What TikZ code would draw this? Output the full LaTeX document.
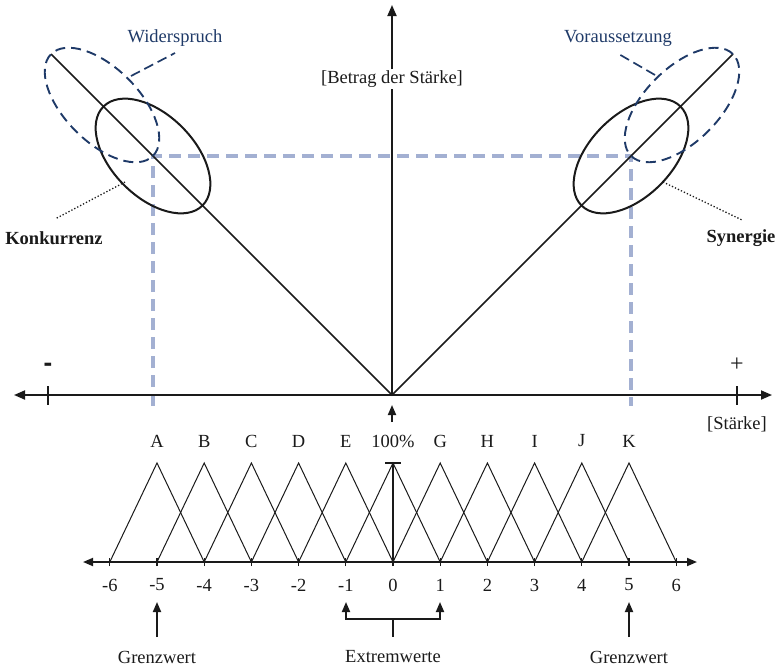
\documentclass[tikz,border=0pt]{standalone}
\usepackage{fontspec}
\setmainfont{Liberation Serif}
\usetikzlibrary{arrows.meta}
\definecolor{navy}{HTML}{1F3A68}
\definecolor{lgrey}{HTML}{A3B0D2}
\definecolor{ink}{HTML}{1A1A1A}
\begin{document}
\begin{tikzpicture}[x=1pt,y=-1pt,
  font=\fontsize{18.5}{21}\selectfont,
  every node/.style={inner sep=1pt, text=ink},
  axisline/.style={draw=ink, line width=1.8pt},
  bigarr/.style={-{Triangle[length=11pt,width=9pt]}},
  smallarr/.style={-{Triangle[length=10pt,width=8pt]}},
  vline/.style={draw=ink, line width=1.7pt},
  blackell/.style={draw=ink, line width=2pt},
  blueell/.style={draw=navy, line width=1.9pt, dash pattern=on 10pt off 6pt},
  bluelead/.style={draw=navy, line width=1.7pt, dash pattern=on 10pt off 5pt},
  greydash/.style={draw=lgrey, line width=3.4pt, dash pattern=on 12pt off 7pt},
  dotlead/.style={draw=ink, line width=1.3pt, dotted},
  tri/.style={draw=ink, line width=1pt},
  bluetext/.style={text=navy}]
\useasboundingbox (0,0) rectangle (781,667);

% key points
\coordinate (O) at (392,395);
\coordinate (PL) at (153,156);
\coordinate (PR) at (631,156);
\coordinate (TL) at (51,54);
\coordinate (TR) at (733,54);

% light grey dashed guides
\coordinate (gl) at (153,406);
\coordinate (gr) at (631,406);
\draw[greydash] (gl) -- (PL) -- (PR) -- (gr);

% main horizontal axis
\coordinate (axL) at (14,395);
\coordinate (axR) at (772,395);
\draw[axisline, {Triangle[length=11pt,width=9pt]}-{Triangle[length=11pt,width=9pt]}] (axL) -- (axR);
\coordinate (tmT) at (48,386); \coordinate (tmB) at (48,405);
\coordinate (tpT) at (737,386); \coordinate (tpB) at (737,405);
\draw[axisline] (tmT) -- (tmB);
\draw[axisline] (tpT) -- (tpB);
\node (minus) at (48,367) {\fontsize{26}{28}\selectfont\fontspec{Liberation Sans}\bfseries -};
\node (plus) at (737,365) {\fontsize{24}{26}\selectfont +};
\node (staerke) at (737,424) {[Stärke]};

% vertical axis
\node (betrag) at (392,79) {[Betrag der Stärke]};
\coordinate (vtop) at (392,5);
\draw[axisline] (O) -- (betrag.south);
\draw[axisline, bigarr] (betrag.north) -- (vtop);

% V lines
\draw[vline] (TL) -- (O) -- (TR);

% ellipses
\draw[blackell, shift={(PL)}, rotate=-45] (0,0) ellipse [x radius=70pt, y radius=41pt];
\draw[blackell, shift={(PR)}, rotate=45] (0,0) ellipse [x radius=70pt, y radius=41pt];
\draw[blueell, shift={(102,105)}, rotate=-45] (0,0) ellipse [x radius=72pt, y radius=37pt];
\draw[blueell, shift={(682,105)}, rotate=45] (0,0) ellipse [x radius=72pt, y radius=37pt];

% labels with leaders
\node[bluetext] (wid) at (175,38) {Widerspruch};
\coordinate (widA) at (131,76); \coordinate (widB) at (175,53);
\draw[bluelead] (widA) -- (widB);
\node[bluetext] (vor) at (618,38) {Voraussetzung};
\coordinate (vorA) at (655,75); \coordinate (vorB) at (617,53);
\draw[bluelead] (vorA) -- (vorB);

\node[font=\fontsize{18.5}{21}\selectfont\bfseries] (konk) at (54,238) {Konkurrenz};
\coordinate (konkA) at (125,182); \coordinate (konkB) at (55,219);
\draw[dotlead] (konkA) -- (konkB);
\node[font=\fontsize{18.5}{21}\selectfont\bfseries] (syn) at (741,238) {Synergie};
\coordinate (synA) at (663,182); \coordinate (synB) at (742,220);
\draw[dotlead] (synA) -- (synB);

% small up arrow under origin
\coordinate (oa1) at (392,422); \coordinate (oa2) at (392,405);
\draw[axisline, smallarr] (oa1) -- (oa2);

% letters
\foreach \k/\l in {-5/A,-4/B,-3/C,-2/D,-1/E,0/100\%,1/G,2/H,3/I,4/J,5/K}{
  \node (L\k) at ({393+47.2*\k},441) {\l};
}

% triangles
\foreach \k in {-5,...,5}{
  \coordinate (pk\k) at ({393+47.2*\k},463);
}
\foreach \k in {-6,...,6}{
  \coordinate (b\k) at ({393+47.2*\k},562);
}
\foreach \k [evaluate=\k as \a using int(\k-1), evaluate=\k as \c using int(\k+1)] in {-5,...,5}{
  \draw[tri] (b\a) -- (pk\k) -- (b\c);
}
\coordinate (cbL) at (385,463); \coordinate (cbR) at (401,463);
\draw[draw=ink, line width=1.6pt] (b0) -- (pk0);
\draw[draw=ink, line width=1.6pt] (cbL) -- (cbR);

% bottom axis
\coordinate (baL) at (83,562); \coordinate (baR) at (697,562);
\draw[axisline, {Triangle[length=10pt,width=8pt]}-{Triangle[length=10pt,width=8pt]}] (baL) -- (baR);
\foreach \k in {-6,...,6}{
  \draw[draw=ink, line width=1.3pt] ([yshift=-4pt]b\k) -- ([yshift=4pt]b\k);
  \node (n\k) at ({393+47.2*\k},585) {\k};
}

% Grenzwert arrows
\node (gw1) at (157,657) {Grenzwert};
\node (gw2) at (629,657) {Grenzwert};
\coordinate (g1b) at (157,637); \coordinate (g1t) at (157,602);
\coordinate (g2b) at (629,637); \coordinate (g2t) at (629,602);
\draw[axisline, smallarr] (g1b) -- (g1t);
\draw[axisline, smallarr] (g2b) -- (g2t);

% Extremwerte
\node (ext) at (393,657) {Extremwerte};
\coordinate (e1t) at (346,602); \coordinate (e1c) at (346,619);
\coordinate (e2t) at (440,602); \coordinate (e2c) at (440,619);
\coordinate (ecm) at (393,619); \coordinate (ecb) at (393,637);
\draw[axisline, {Triangle[length=10pt,width=8pt]}-{Triangle[length=10pt,width=8pt]}] (e1t) -- (e1c) -- (e2c) -- (e2t);
\draw[axisline] (ecm) -- (ecb);
\end{tikzpicture}
\end{document}
